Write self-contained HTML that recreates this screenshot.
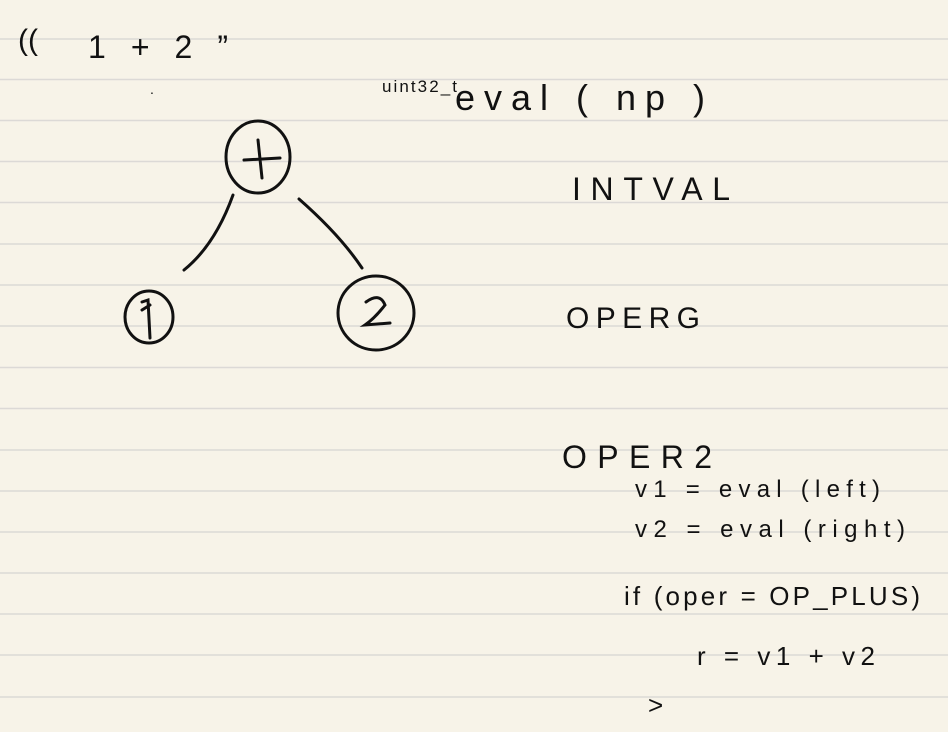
<!DOCTYPE html>
<html><head><style>
html,body{margin:0;padding:0;background:#f7f3e8;}
svg{display:block}
text{font-family:"Liberation Sans",sans-serif;fill:#111;}
</style></head><body>
<svg width="948" height="732" viewBox="0 0 948 732">
<rect width="948" height="732" fill="#f7f3e8"/>
<g stroke="#dcd9d6" stroke-width="1.5">
<line x1="0" x2="948" y1="39" y2="39"/><line x1="0" x2="948" y1="79.5" y2="79.5"/>
<line x1="0" x2="948" y1="120.5" y2="120.5"/><line x1="0" x2="948" y1="161.5" y2="161.5"/>
<line x1="0" x2="948" y1="202.5" y2="202.5"/><line x1="0" x2="948" y1="244" y2="244"/>
<line x1="0" x2="948" y1="285" y2="285"/><line x1="0" x2="948" y1="326" y2="326"/>
<line x1="0" x2="948" y1="367.5" y2="367.5"/><line x1="0" x2="948" y1="408.5" y2="408.5"/>
<line x1="0" x2="948" y1="450" y2="450"/><line x1="0" x2="948" y1="491" y2="491"/>
<line x1="0" x2="948" y1="532" y2="532"/><line x1="0" x2="948" y1="573" y2="573"/>
<line x1="0" x2="948" y1="614" y2="614"/><line x1="0" x2="948" y1="655" y2="655"/>
<line x1="0" x2="948" y1="697" y2="697"/>
</g>
<g fill="none" stroke="#111" stroke-width="3" stroke-linecap="round">
<ellipse cx="258" cy="157" rx="32" ry="36"/>
<ellipse cx="149" cy="317" rx="24" ry="26"/>
<ellipse cx="376" cy="313" rx="38" ry="37"/>
<path d="M233 195 Q215 245 184 270"/>
<path d="M299 199 Q340 235 362 268"/>
<path d="M258 140 L262 178 M244 160 L280 158"/>
<path d="M142 302 L148 300 L150 338 M142 310 L150 305"/>
<path d="M366 302 Q380 292 385 305 Q375 318 365 325 L390 323"/>
</g>
<text x="18" y="50" font-size="30">((</text>
<text x="88" y="58" font-size="32" textLength="140" lengthAdjust="spacing">1 + 2 ”</text>
<text x="150" y="94" font-size="14">.</text>
<text x="382" y="92" font-size="17" textLength="75">uint32_t</text>
<text x="455" y="110" font-size="36" textLength="250" lengthAdjust="spacing">eval ( np )</text>
<text x="572" y="200" font-size="32" textLength="158" lengthAdjust="spacing">INTVAL</text>
<text x="566" y="328" font-size="30" textLength="134" lengthAdjust="spacing">OPERG</text>
<text x="562" y="468" font-size="32" textLength="150" lengthAdjust="spacing">OPER2</text>
<text x="635" y="497" font-size="24" textLength="245" lengthAdjust="spacing">v1 = eval (left)</text>
<text x="635" y="537" font-size="24" textLength="270" lengthAdjust="spacing">v2 = eval (right)</text>
<text x="624" y="605" font-size="26" textLength="296" lengthAdjust="spacing">if (oper = OP_PLUS)</text>
<text x="697" y="665" font-size="26" textLength="178" lengthAdjust="spacing">r = v1 + v2</text>
<text x="648" y="714" font-size="26">&gt;</text>
</svg>
</body></html>
